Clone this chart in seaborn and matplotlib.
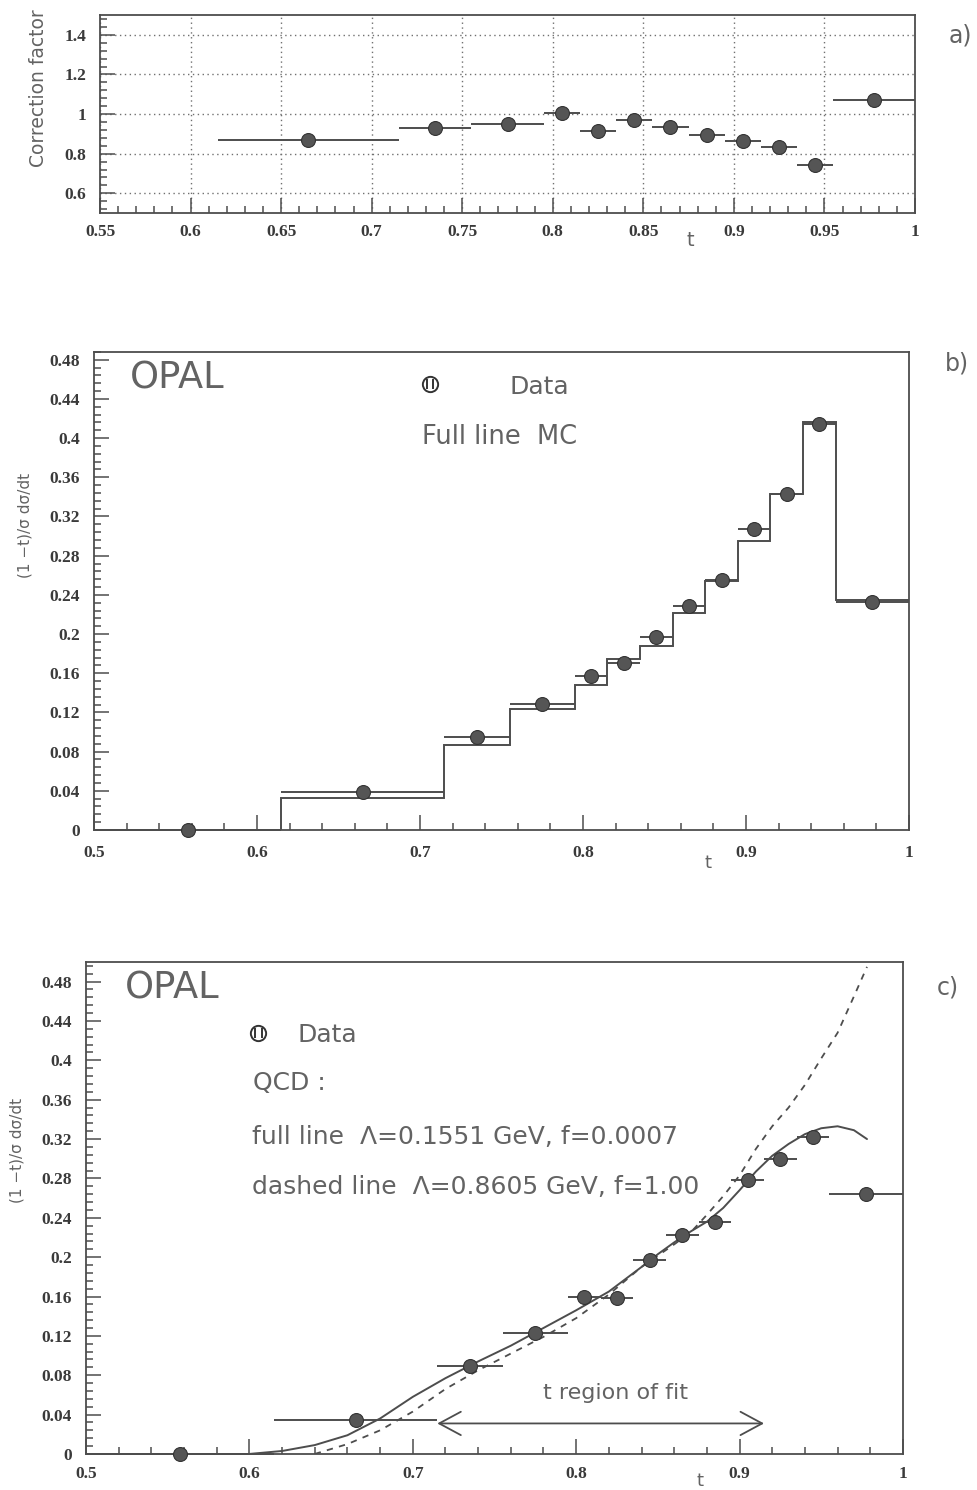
import numpy as np
import pandas as pd
import seaborn as sns
import matplotlib.pyplot as plt
from matplotlib.ticker import FixedLocator, MultipleLocator, FixedFormatter

# t bins shared by the three panels
t_edges = [0.5, 0.615, 0.715, 0.755, 0.795, 0.815, 0.835, 0.855, 0.875, 0.895, 0.915, 0.935, 0.955, 1.0]

# a) correction factor (no value for the first bin)
corr_factor = [0.87, 0.93, 0.95, 1.005, 0.915, 0.97, 0.935, 0.895, 0.865, 0.835, 0.745, 1.07]

# b) data vs MC
data_b = [0.0, 0.039, 0.095, 0.129, 0.157, 0.170, 0.197, 0.229, 0.255, 0.307, 0.343, 0.414, 0.233]
mc_b = [0.0, 0.033, 0.087, 0.123, 0.148, 0.175, 0.188, 0.221, 0.254, 0.295, 0.343, 0.416, 0.235]

# c) data vs QCD fits
data_c = [0.0, 0.034, 0.089, 0.123, 0.160, 0.158, 0.197, 0.222, 0.236, 0.278, 0.300, 0.322, 0.264]
full_t = [0.60, 0.62, 0.64, 0.66, 0.68, 0.70, 0.72, 0.74, 0.76, 0.78, 0.80, 0.82, 0.84, 0.85,
          0.86, 0.87, 0.88, 0.89, 0.90, 0.91, 0.92, 0.93, 0.94, 0.95, 0.96, 0.97, 0.978]
full_y = [0.0, 0.003, 0.009, 0.019, 0.036, 0.058, 0.077, 0.094, 0.110, 0.128, 0.146, 0.165, 0.190, 0.203,
          0.215, 0.226, 0.236, 0.250, 0.268, 0.287, 0.303, 0.315, 0.325, 0.331, 0.333, 0.329, 0.320]
dash_t = [0.64, 0.66, 0.68, 0.70, 0.72, 0.74, 0.76, 0.78, 0.80, 0.82, 0.84, 0.86, 0.87, 0.88,
          0.89, 0.90, 0.91, 0.92, 0.93, 0.94, 0.95, 0.96, 0.97, 0.978]
dash_y = [0.0, 0.010, 0.024, 0.043, 0.066, 0.085, 0.102, 0.119, 0.138, 0.162, 0.190, 0.213, 0.225, 0.243,
          0.262, 0.283, 0.310, 0.333, 0.352, 0.375, 0.402, 0.428, 0.465, 0.495]

xticks_a = [0.55, 0.6, 0.65, 0.7, 0.75, 0.8, 0.85, 0.9, 0.95, 1.0]
xlabels_a = ["0.55", "0.6", "0.65", "0.7", "0.75", "0.8", "0.85", "0.9", "0.95", "1"]
yticks_a = [0.6, 0.8, 1.0, 1.2, 1.4]
ylabels_a = ["0.6", "0.8", "1", "1.2", "1.4"]
xticks_bc = [0.5, 0.6, 0.7, 0.8, 0.9, 1.0]
xlabels_bc = ["0.5", "0.6", "0.7", "0.8", "0.9", "1"]
yticks_bc = [0.0, 0.04, 0.08, 0.12, 0.16, 0.2, 0.24, 0.28, 0.32, 0.36, 0.4, 0.44, 0.48]
ylabels_bc = ["0", "0.04", "0.08", "0.12", "0.16", "0.2", "0.24", "0.28", "0.32", "0.36", "0.4", "0.44", "0.48"]

INK = "#4d4d4d"
TXT = "#636363"
TICKFONT = dict(family="Liberation Serif", weight="bold", size=12.5, color="#3a3a3a")

sns.set_theme(style="ticks")
plt.rcParams["font.family"] = ["DejaVu Sans"]

edges = np.array(t_edges)
centers = (edges[:-1] + edges[1:]) / 2
halfw = (edges[1:] - edges[:-1]) / 2


def style_axes(ax, xt, xl, yt, yl, xminor, yminor, xpad=9):
    ax.xaxis.set_major_locator(FixedLocator(xt))
    ax.xaxis.set_major_formatter(FixedFormatter(xl))
    ax.yaxis.set_major_locator(FixedLocator(yt))
    ax.yaxis.set_major_formatter(FixedFormatter(yl))
    ax.xaxis.set_minor_locator(MultipleLocator(xminor))
    ax.yaxis.set_minor_locator(MultipleLocator(yminor))
    ax.tick_params(which="both", direction="in", top=False, right=False, color=INK, width=1.1)
    ax.tick_params(which="major", length=11, pad=10)
    ax.tick_params(axis="x", which="major", pad=xpad)
    ax.tick_params(which="minor", length=5)
    for lab in ax.get_xticklabels() + ax.get_yticklabels():
        lab.set_fontfamily(TICKFONT["family"])
        lab.set_fontweight(TICKFONT["weight"])
        lab.set_fontsize(TICKFONT["size"])
        lab.set_color(TICKFONT["color"])
    for sp in ax.spines.values():
        sp.set_color(INK)
        sp.set_linewidth(1.3)
    ax.set_facecolor("white")


def draw_points(ax, x, y, xerr, ms=10):
    ax.hlines(y, np.array(x) - np.array(xerr), np.array(x) + np.array(xerr), color=INK, lw=1.4,
              zorder=3, clip_on=False)
    df = pd.DataFrame({"t": x, "v": y})
    sns.scatterplot(data=df, x="t", y="v", ax=ax, s=ms ** 2, color="#555555",
                    edgecolor="#333333", linewidth=0.8, zorder=4, legend=False, clip_on=False)


def legend_marker(ax, x, y):
    ax.plot([x], [y], "o", ms=11, mfc="white", mec="#333333", mew=1.4, transform=ax.transAxes)
    ax.plot([x - 0.004, x + 0.004], [y, y], "|", ms=7, color="#333333", mew=1.4, transform=ax.transAxes)


fig = plt.figure(figsize=(9.77, 14.9), dpi=100)

# ---------- a) ----------
ax_a = fig.add_axes([0.1024, 0.857, 0.8341, 0.1329])
ax_a.set_xlim(0.55, 1.0)
ax_a.set_ylim(0.5, 1.5)
style_axes(ax_a, xticks_a, xlabels_a, yticks_a, ylabels_a, 0.01, 0.04, xpad=8)
ax_a.grid(True, which="major", linestyle=(0, (1, 2.5)), color="#707070", lw=1.0)
draw_points(ax_a, centers[1:], corr_factor, halfw[1:], ms=10)
ax_a.set_xlabel("t", fontsize=14, color=TXT)
ax_a.xaxis.set_label_coords(0.724, -0.09)
ax_a.set_ylabel("Correction factor", fontsize=13.5, color=TXT)
ax_a.yaxis.set_label_coords(-0.064, 0.63)
fig.text(0.9826, 0.976, "a)", fontsize=17, color=TXT, ha="center", va="center")

# ---------- b) ----------
ax_b = fig.add_axes([0.0962, 0.443, 0.8342, 0.3208])
ax_b.set_xlim(0.5, 1.0)
ax_b.set_ylim(0.0, 0.488)
style_axes(ax_b, xticks_bc, xlabels_bc, yticks_bc, ylabels_bc, 0.02, 0.008, xpad=11)
ax_b.stairs(mc_b, edges, color=INK, lw=1.4, baseline=None, zorder=2)
draw_points(ax_b, centers, data_b, halfw)
ax_b.set_xlabel("t", fontsize=13, color=TXT)
ax_b.xaxis.set_label_coords(0.753, -0.05)
ax_b.set_ylabel("(1 −t)/σ dσ/dt", fontsize=11, color=TXT)
ax_b.yaxis.set_label_coords(-0.076, 0.638)
ax_b.text(0.044, 0.946, "OPAL", transform=ax_b.transAxes, fontsize=26.5, color=TXT, va="center")
legend_marker(ax_b, 0.412, 0.933)
ax_b.text(0.510, 0.927, "Data", transform=ax_b.transAxes, fontsize=18, color=TXT, va="center")
ax_b.text(0.402, 0.822, "Full line  MC", transform=ax_b.transAxes, fontsize=18.5, color=TXT, va="center")
fig.text(0.979, 0.756, "b)", fontsize=17, color=TXT, ha="center", va="center")

# ---------- c) ----------
ax_c = fig.add_axes([0.088, 0.0242, 0.8362, 0.3302])
ax_c.set_xlim(0.5, 1.0)
ax_c.set_ylim(0.0, 0.5)
style_axes(ax_c, xticks_bc, xlabels_bc, yticks_bc, ylabels_bc, 0.02, 0.008, xpad=9)
sns.lineplot(x=full_t, y=full_y, ax=ax_c, color=INK, lw=1.4, sort=False, estimator=None, zorder=2)
sns.lineplot(x=dash_t, y=dash_y, ax=ax_c, color=INK, lw=1.3, sort=False, estimator=None,
             linestyle=(0, (3.5, 3.5)), zorder=2)
draw_points(ax_c, centers, data_c, halfw)
ax_c.annotate("", xy=(0.715, 0.031), xytext=(0.915, 0.031),
              arrowprops=dict(arrowstyle="<->,head_length=1.3,head_width=0.7", color=INK, lw=1.3,
                              shrinkA=0, shrinkB=0))
ax_c.text(0.7797, 0.062, "t region of fit", fontsize=16, color=TXT, va="center")
ax_c.set_xlabel("t", fontsize=13, color=TXT)
ax_c.xaxis.set_label_coords(0.752, -0.037)
ax_c.set_ylabel("(1 −t)/σ dσ/dt", fontsize=11, color=TXT)
ax_c.yaxis.set_label_coords(-0.075, 0.616)
ax_c.text(0.048, 0.947, "OPAL", transform=ax_c.transAxes, fontsize=26.5, color=TXT, va="center")
legend_marker(ax_c, 0.211, 0.856)
ax_c.text(0.259, 0.852, "Data", transform=ax_c.transAxes, fontsize=18, color=TXT, va="center")
ax_c.text(0.204, 0.754, "QCD :", transform=ax_c.transAxes, fontsize=18, color=TXT, va="center")
ax_c.text(0.203, 0.644, "full line  Λ=0.1551 GeV, f=0.0007", transform=ax_c.transAxes,
          fontsize=18, color=TXT, va="center")
ax_c.text(0.203, 0.543, "dashed line  Λ=0.8605 GeV, f=1.00", transform=ax_c.transAxes,
          fontsize=18, color=TXT, va="center")
fig.text(0.970, 0.337, "c)", fontsize=17, color=TXT, ha="center", va="center")

fig.savefig("out.png", dpi=100, facecolor="white")
